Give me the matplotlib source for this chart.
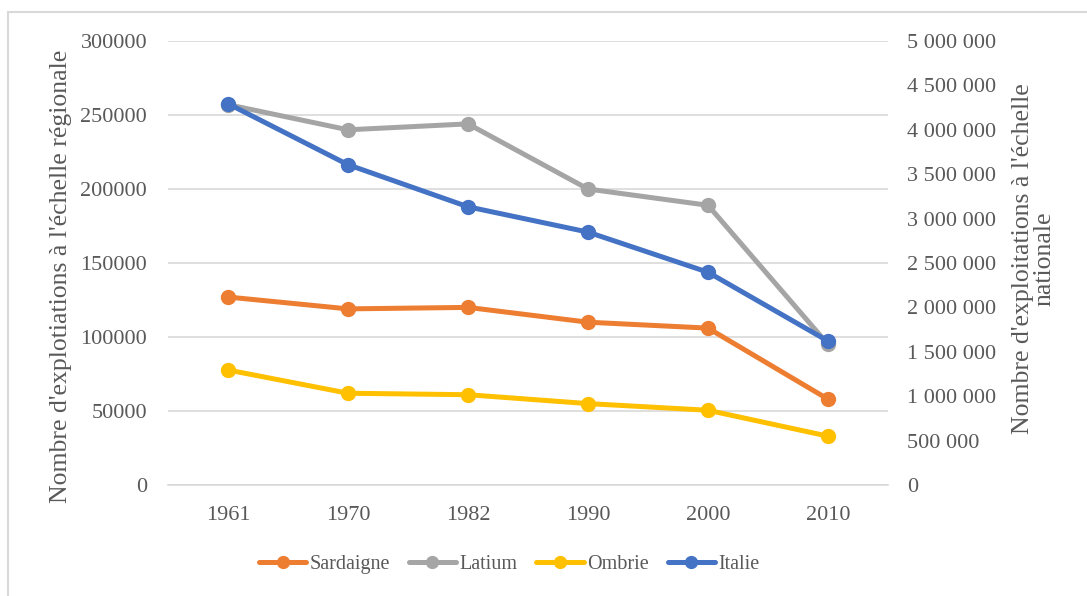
import matplotlib
matplotlib.use('Agg')
import matplotlib.pyplot as plt
from matplotlib.patches import Rectangle
from matplotlib.ticker import FuncFormatter

# données
annees = ['1961', '1970', '1982', '1990', '2000', '2010']
sardaigne = [127000, 119000, 120000, 110000, 106000, 58000]
latium = [257000, 240000, 244000, 200000, 189000, 95000]
ombrie = [77700, 62000, 61000, 55000, 50500, 33000]
italie = [4294000, 3607000, 3133000, 2848000, 2396000, 1621000]

c_sar = '#ED7D31'
c_lat = '#A5A5A5'
c_omb = '#FFC000'
c_ita = '#4472C4'
gris = '#595959'

plt.rcParams['font.family'] = ['Liberation Serif', 'DejaVu Serif']

fig = plt.figure(figsize=(10.87, 5.96), dpi=100)
# cadre du graphique
fig.patches.append(Rectangle((8 / 1087, -0.1), 1.2, 1 - 12 / 596 + 0.1,
                             transform=fig.transFigure, fill=False,
                             edgecolor='#D9D9D9', linewidth=1.5))

ax = fig.add_axes([168 / 1087, 1 - 485 / 596, 720 / 1087, 444 / 596])
ax2 = ax.twinx()

x = range(len(annees))
style = dict(linewidth=3.6, marker='o', markersize=10, solid_capstyle='round')
l1, = ax.plot(x, sardaigne, color=c_sar, label='Sardaigne', **style)
l2, = ax.plot(x, latium, color=c_lat, label='Latium', **style)
l3, = ax.plot(x, ombrie, color=c_omb, label='Ombrie', **style)
l4, = ax2.plot(x, italie, color=c_ita, label='Italie', **style)

ax.set_xlim(-0.5, 5.5)
ax.set_ylim(0, 300000)
ax2.set_ylim(0, 5000000)
ax.set_xticks(list(x))
ax.set_xticklabels(annees)
ax.set_yticks(range(0, 300001, 50000))
ax2.set_yticks(range(0, 5000001, 500000))
ax2.yaxis.set_major_formatter(FuncFormatter(lambda v, p: f'{int(v):,}'.replace(',', ' ')))

ax.grid(axis='y', color='#D9D9D9', linewidth=1.2)
ax.set_axisbelow(True)
for a in (ax, ax2):
    for s in a.spines.values():
        s.set_visible(False)
    a.tick_params(length=0, labelsize=16, labelcolor=gris)
ax.spines['bottom'].set_visible(True)
ax.spines['bottom'].set_color('#D9D9D9')
ax.spines['bottom'].set_linewidth(1.2)
ax.tick_params(axis='y', pad=15)
ax.tick_params(axis='x', pad=15)
ax2.tick_params(axis='y', pad=14)

ax.set_ylabel("Nombre d'explotiations à l'échelle régionale", fontsize=18.5, color=gris)
ax.yaxis.set_label_coords(-0.133, 0.47)
ax2.set_ylabel("Nombre d'exploitations à l'échelle\nnationale", fontsize=18.5, color=gris,
               linespacing=0.95)
ax2.yaxis.set_label_coords(1.172, 0.51)

fig.legend(handles=[l1, l2, l3, l4], loc='center', bbox_to_anchor=(509 / 1087, 1 - 564 / 596),
           ncol=4, frameon=False, fontsize=14.5, labelcolor=gris, handlelength=2.35,
           handletextpad=0.15, columnspacing=0.95, markerscale=0.85)

fig.savefig('out.png', dpi=100)
